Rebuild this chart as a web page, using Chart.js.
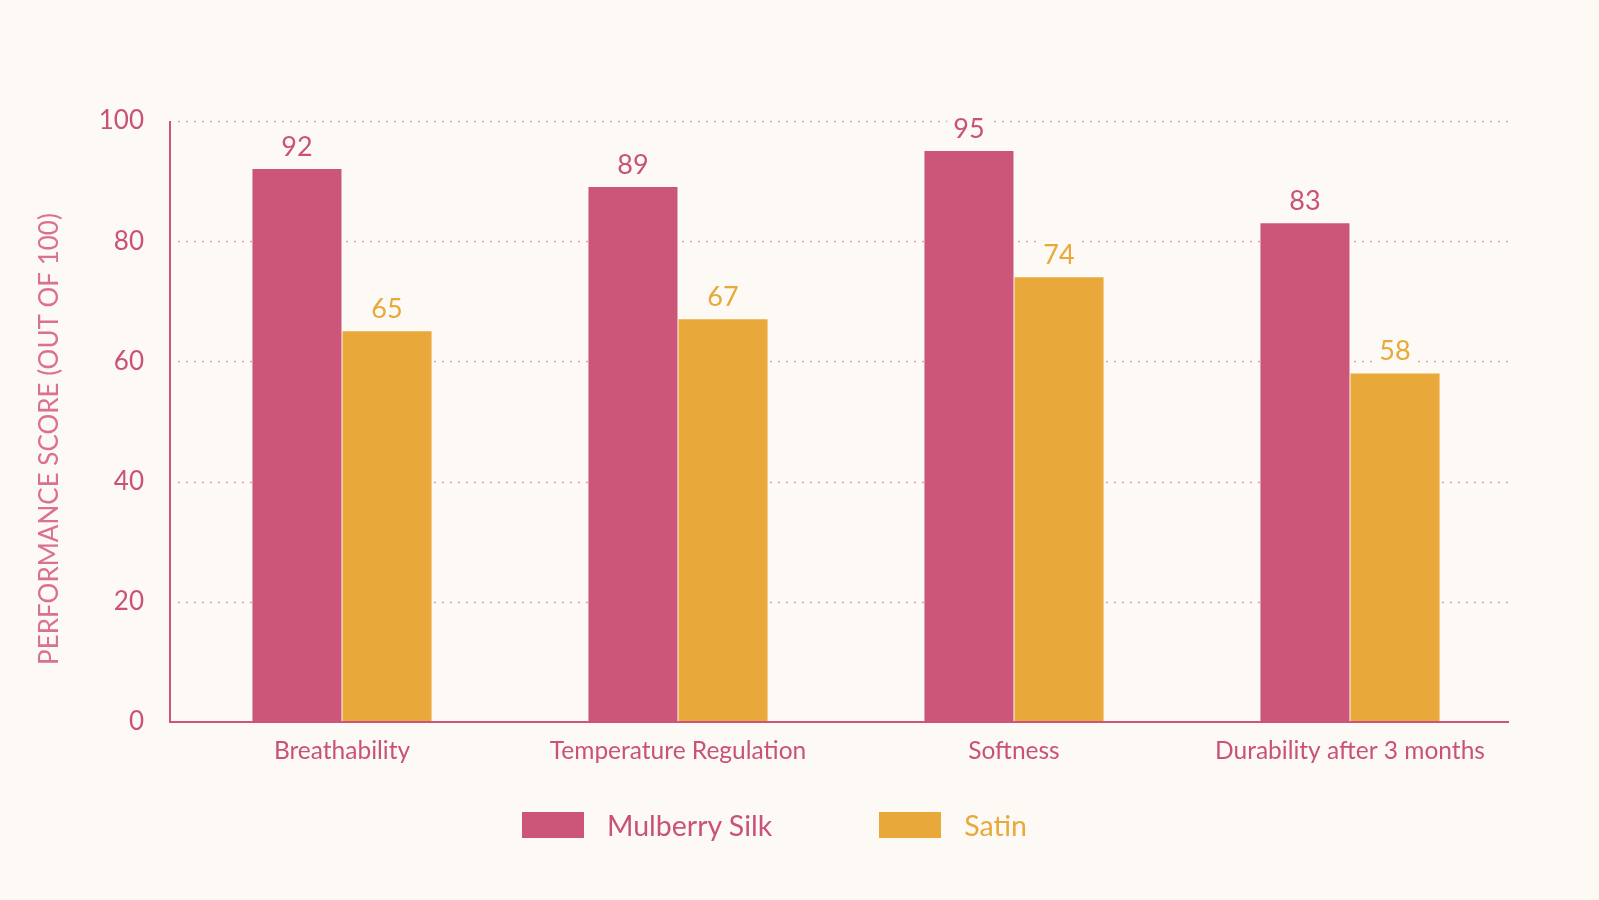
<!DOCTYPE html>
<html>
<head>
<meta charset="utf-8">
<script src="https://cdn.jsdelivr.net/npm/chart.js@4.4.1/dist/chart.umd.min.js"></script>
<style>
  body { margin: 0; background: #FDFAF5; }
  #wrap { position: relative; width: 1599px; height: 900px; }
  #legend { position: absolute; left: 522px; top: 808px; display: flex; align-items: center; font-family: Lato, sans-serif; font-size: 28.5px; }
  .item { display: flex; align-items: center; margin-right: 107px; }
  .box { width: 62px; height: 26px; margin-right: 23px; }
</style>
</head>
<body>
<div id="wrap">
  <canvas id="myChart" width="1599" height="900"></canvas>
  <div id="legend"></div>
</div>
<script>
// Chart data
const categories = ['Breathability', 'Temperature Regulation', 'Softness', 'Durability after 3 months'];
const silkScores = [92, 89, 95, 83];
const satinScores = [65, 67, 74, 58];
const yTicks = [0, 20, 40, 60, 80, 100];

const pink = '#CC5679';
const orange = '#E9A83A';
const bg = '#FDFAF5';

// Dotted grid + axis lines (axis lines sit a bit outside the bar area, like the original)
const axisLines = {
    id: 'axisLines',
    beforeDatasetsDraw(chart) {
        const ctx = chart.ctx;
        const area = chart.chartArea;
        const y = chart.scales.y;
        ctx.save();
        ctx.strokeStyle = 'rgba(204, 86, 121, 0.55)';
        ctx.lineWidth = 1.5;
        ctx.setLineDash([2, 6]);
        yTicks.slice(1).forEach(v => {
            const py = Math.round(y.getPixelForValue(v)) + 0.5;
            ctx.beginPath();
            ctx.moveTo(area.left + 4, py);
            ctx.lineTo(area.right - 9, py);
            ctx.stroke();
        });
        ctx.restore();
    },
    afterDatasetsDraw(chart) {
        const ctx = chart.ctx;
        const area = chart.chartArea;
        ctx.save();
        ctx.strokeStyle = pink;
        ctx.lineWidth = 2;
        ctx.beginPath();
        ctx.moveTo(area.left - 4, area.top);
        ctx.lineTo(area.left - 4, area.bottom);
        ctx.lineTo(area.right - 9, area.bottom);
        ctx.stroke();
        ctx.restore();
    }
};

// Value labels above each bar, with a background patch over the grid dots
const valueLabels = {
    id: 'valueLabels',
    afterDatasetsDraw(chart) {
        const ctx = chart.ctx;
        ctx.save();
        ctx.font = '27px Lato';
        ctx.textAlign = 'center';
        ctx.textBaseline = 'middle';
        chart.data.datasets.forEach((ds, i) => {
            chart.getDatasetMeta(i).data.forEach((bar, j) => {
                const txt = String(ds.data[j]);
                const w = ctx.measureText(txt).width + 12;
                const y = bar.y - 22;
                ctx.fillStyle = bg;
                ctx.fillRect(bar.x - w / 2, y - 15, w, 30);
                ctx.fillStyle = ds.labelColor;
                ctx.fillText(txt, bar.x, y);
            });
        });
        ctx.restore();
    }
};

// Rotated y axis title
const yTitle = {
    id: 'yTitle',
    afterDraw(chart) {
        const ctx = chart.ctx;
        ctx.save();
        ctx.translate(50, 439);
        ctx.rotate(-Math.PI / 2);
        ctx.font = '26px Lato';
        ctx.fillStyle = '#DA7093';
        ctx.textAlign = 'center';
        ctx.textBaseline = 'middle';
        ctx.fillText('PERFORMANCE SCORE (OUT OF 100)', 0, 0);
        ctx.restore();
    }
};

const ctx = document.getElementById('myChart').getContext('2d');
const myChart = new Chart(ctx, {
    type: 'bar',
    data: {
        labels: categories,
        datasets: [{
            label: 'Mulberry Silk',
            data: silkScores,
            backgroundColor: pink,
            labelColor: '#C9527A',
            categoryPercentage: 0.536,
            barPercentage: 0.989
        }, {
            label: 'Satin',
            data: satinScores,
            backgroundColor: orange,
            labelColor: orange,
            categoryPercentage: 0.536,
            barPercentage: 0.989
        }]
    },
    options: {
        responsive: false,
        animation: false,
        layout: { padding: { left: 0, right: 81, top: 121, bottom: 118 } },
        plugins: {
            legend: { display: false },
            tooltip: { enabled: false }
        },
        scales: {
            x: {
                grid: { display: false, drawTicks: false },
                border: { display: false },
                ticks: { color: '#C9527A', font: { family: 'Lato', size: 24.5 }, padding: 14 },
                afterFit(scale) { scale.height = 60; }
            },
            y: {
                min: 0,
                max: 100,
                afterBuildTicks(scale) { scale.ticks = yTicks.map(v => ({ value: v })); },
                grid: { display: false, drawTicks: false },
                border: { display: false },
                ticks: { color: '#C9527A', font: { family: 'Lato', size: 26 }, padding: 30 },
                afterFit(scale) { scale.width = 174; }
            }
        }
    },
    plugins: [axisLines, valueLabels, yTitle]
});

// Legend built from the datasets
const legend = document.getElementById('legend');
myChart.data.datasets.forEach(ds => {
    const item = document.createElement('div');
    item.className = 'item';
    item.innerHTML = '<div class="box" style="background:' + ds.backgroundColor + '"></div>' +
        '<span style="color:' + ds.labelColor + '">' + ds.label + '</span>';
    legend.appendChild(item);
});
</script>
</body>
</html>
